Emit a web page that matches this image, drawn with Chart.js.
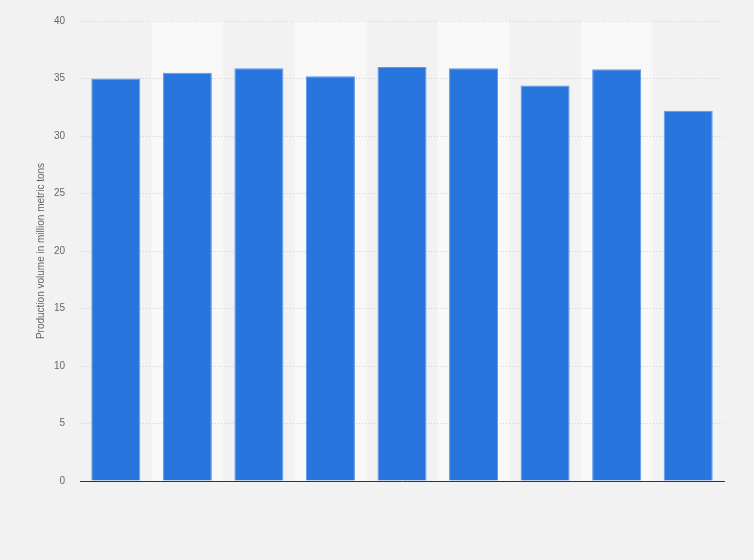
<!DOCTYPE html>
<html>
<head>
<meta charset="utf-8">
<script src="https://cdn.jsdelivr.net/npm/chart.js@4"></script>
<style>
  html, body { margin: 0; padding: 0; background: #f2f2f2; }
  #wrap { width: 754px; height: 560px; position: relative; }
</style>
</head>
<body>
<div id="wrap"><canvas id="c" width="754" height="560"></canvas></div>
<script>
const categories = ["1", "2", "3", "4", "5", "6", "7", "8", "9"];
const productionValues = [35.0, 35.5, 35.9, 35.2, 36.0, 35.9, 34.4, 35.8, 32.2];
const yTickValues = [0, 5, 10, 15, 20, 25, 30, 35, 40];
const yAxisTitle = "Production volume in million metric tons";

const bandPlugin = {
  id: 'bands',
  beforeDraw(chart) {
    const { ctx, chartArea, scales } = chart;
    const x = scales.x;
    ctx.save();
    ctx.fillStyle = '#f8f8f8';
    for (let i = 1; i < categories.length; i += 2) {
      const c = x.getPixelForValue(i);
      const half = (chartArea.right - chartArea.left) / categories.length / 2;
      ctx.fillRect(c - half, chartArea.top, half * 2, chartArea.bottom - chartArea.top);
    }
    ctx.restore();
  }
};

new Chart(document.getElementById('c'), {
  type: 'bar',
  data: {
    labels: categories,
    datasets: [{
      data: productionValues,
      backgroundColor: '#2876dd',
      borderColor: '#5e98e6',
      borderWidth: 1,
      barPercentage: 0.685,
      categoryPercentage: 1.0
    }]
  },
  options: {
    responsive: false,
    animation: false,
    devicePixelRatio: 1,
    layout: { padding: { left: 0, right: 30, top: 20, bottom: 79 } },
    plugins: { legend: { display: false }, tooltip: { enabled: false } },
    scales: {
      x: {
        grid: { display: false },
        border: { display: true, color: '#333333', width: 1 },
        ticks: { display: false },
        afterFit(scale) { scale.height = 0; }
      },
      y: {
        min: 0, max: 40,
        afterBuildTicks(scale) { scale.ticks = yTickValues.map(v => ({ value: v })); },
        grid: { color: '#d2d2d2', lineWidth: 1, drawTicks: false },
        border: { display: false, dash: [1, 2] },
        ticks: {
          color: '#666666', padding: 15,
          font: { family: 'Liberation Sans, Arial, sans-serif', size: 10 }
        },
        title: {
          display: true, text: yAxisTitle, color: '#666666',
          font: { family: 'Liberation Sans, Arial, sans-serif', size: 10 },
          padding: { top: 35, bottom: 0 }
        },
        afterFit(scale) { scale.width = 80; }
      }
    }
  },
  plugins: [bandPlugin]
});
</script>
</body>
</html>
